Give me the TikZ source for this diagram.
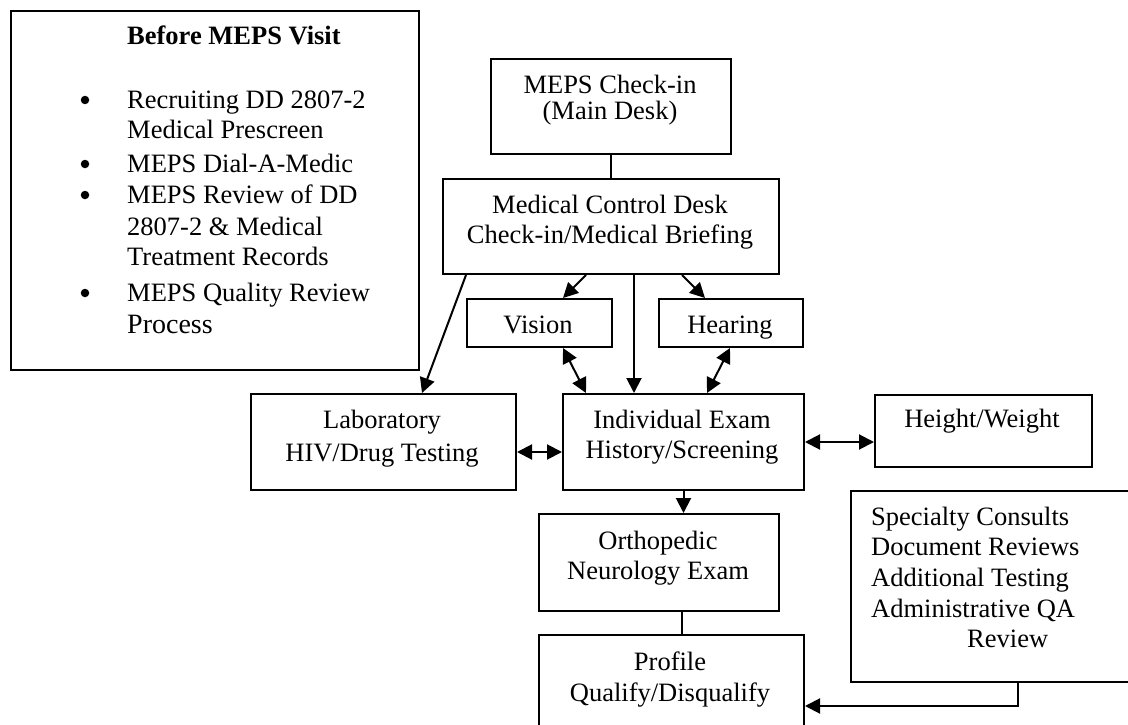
\documentclass[tikz,border=0pt]{standalone}
\usepackage{fontspec}
\setmainfont{Liberation Serif}
\usetikzlibrary{arrows.meta,calc}
\begin{document}
\begin{tikzpicture}[x=1pt,y=-1pt,
  box/.style={draw=black,line width=2pt,inner sep=0pt,anchor=north west},
  txt/.style={inner sep=0pt,anchor=base,font=\fontsize{26.5}{30}\selectfont},
  txtl/.style={txt,anchor=base west},
  bul/.style={circle,fill=black,inner sep=0pt,minimum size=8.5pt},
  conn/.style={line width=2pt},
  arr/.style={conn,-{Triangle[length=15pt,width=15pt]}},
  darr/.style={conn,{Triangle[length=15pt,width=15pt]}-{Triangle[length=15pt,width=15pt]}}
]
\useasboundingbox (0,0) rectangle (1128,725);
% boxes
\node[box,minimum width=408pt,minimum height=359pt] (before) at (10,10) {};
\node[box,minimum width=240pt,minimum height=95pt] (checkin) at (490,58) {};
\node[box,minimum width=336pt,minimum height=95pt] (mcd) at (442,178) {};
\node[box,minimum width=145pt,minimum height=48pt] (vision) at (466,298) {};
\node[box,minimum width=144pt,minimum height=48pt] (hearing) at (658,298) {};
\node[box,minimum width=265pt,minimum height=96pt] (lab) at (250,393) {};
\node[box,minimum width=241pt,minimum height=96pt] (indiv) at (562,393) {};
\node[box,minimum width=217pt,minimum height=72pt] (hw) at (874,394) {};
\node[box,minimum width=240pt,minimum height=97pt] (ortho) at (538,513) {};
\node[box,minimum width=265pt,minimum height=94pt] (profile) at (538,634) {};
\node[box,minimum width=282pt,minimum height=191pt] (spec) at (850,490) {};
% before text
\node[txtl,font=\fontsize{26.5}{30}\selectfont\bfseries] (title) at (127,45) {Before MEPS Visit};
\node[bul] (b1) at (85,100) {};
\node[txtl] (t1a) at (127,108) {Recruiting DD 2807-2};
\node[txtl] (t1b) at (127,138) {Medical Prescreen};
\node[bul] (b2) at (85,164) {};
\node[txtl] (t2) at (127,172) {MEPS Dial-A-Medic};
\node[bul] (b3) at (85,195) {};
\node[txtl] (t3a) at (127,203) {MEPS Review of DD};
\node[txtl] (t3b) at (127,235) {2807-2 \& Medical};
\node[txtl] (t3c) at (127,265) {Treatment Records};
\node[bul] (b4) at (85,293) {};
\node[txtl] (t4a) at (127,301) {MEPS Quality Review};
\node[txtl,font=\fontsize{28}{30}\selectfont] (t4b) at (127,333) {Process};
% box texts
\node[txt] (ca) at (610,94) {MEPS Check-in};
\node[txt] (cb) at (610,120) {(Main Desk)};
\node[txt] (ma) at (610,213) {Medical Control Desk};
\node[txt] (mb) at (610,243) {Check-in/Medical Briefing};
\node[txt] (va) at (538,333) {Vision};
\node[txt] (ha) at (730,333) {Hearing};
\node[txt] (la) at (382,428) {Laboratory};
\node[txt] (lb) at (382,461) {HIV/Drug Testing};
\node[txt] (ia) at (682,428) {Individual Exam};
\node[txt] (ib) at (682,458) {History/Screening};
\node[txt] (hwa) at (982,427) {Height/Weight};
\node[txt] (oa) at (658,549) {Orthopedic};
\node[txt] (ob) at (658,579) {Neurology Exam};
\node[txt] (pa) at (670,670) {Profile};
\node[txt] (pb) at (670,701) {Qualify/Disqualify};
\node[txtl] (sa) at (871,525) {Specialty Consults};
\node[txtl] (sb) at (871,555) {Document Reviews};
\node[txtl] (sc) at (871,586) {Additional Testing};
\node[txtl] (sd) at (871,617) {Administrative QA};
\node[txtl] (se) at (967,647) {Review};
% connectors
\draw[conn] (checkin.south) -- (mcd.north);
\draw[arr] ([xshift=24pt]mcd.south west) -- ([xshift=172pt]lab.north west);
\draw[arr] ([xshift=144pt]mcd.south west) -- ([xshift=97pt]vision.north west);
\draw[arr] ([xshift=240pt]mcd.south west) -- ([xshift=47pt]hearing.north west);
\draw[arr] ([xshift=192pt]mcd.south west) -- ([xshift=72pt]indiv.north west);
\draw[darr] ([xshift=97pt]vision.south west) -- ([xshift=24pt]indiv.north west);
\draw[darr] ([xshift=72pt]hearing.south west) -- ([xshift=145pt]indiv.north west);
\draw[darr] ([yshift=-10pt]lab.east) -- ([yshift=-10pt]indiv.west);
\draw[darr] (indiv.east) -- (indiv.east -| hw.west);
\draw[arr] (indiv.south) -- (indiv.south |- ortho.north);
\draw[conn] ([xshift=144pt]ortho.south west) -- ([xshift=144pt]profile.north west);
\draw[arr] ([xshift=168pt]spec.south west) |- ([yshift=-24pt]profile.east);
\end{tikzpicture}
\end{document}
